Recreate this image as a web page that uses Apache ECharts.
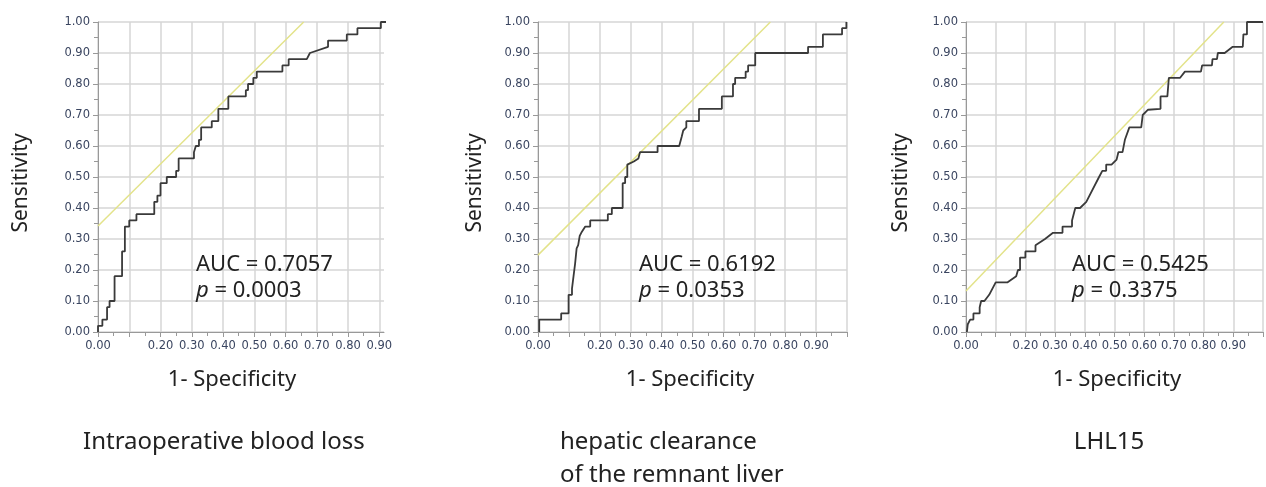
<!DOCTYPE html>
<html><head><meta charset="utf-8">
<script src="https://cdn.jsdelivr.net/npm/echarts@6/dist/echarts.min.js"></script>
<style>html,body{margin:0;padding:0;background:#fff}#c{width:1266px;height:487px}</style>
</head><body><div id="c"></div>
<script>
// ---- data ----
const panelTitles = [['Intraoperative blood loss'], ['hepatic clearance', 'of the remnant liver'], ['LHL15']];
const aucValues = ['0.7057', '0.6192', '0.5425'];
const pValues = ['0.0003', '0.0353', '0.3375'];
const yTickLabels = ['0.00','0.10','0.20','0.30','0.40','0.50','0.60','0.70','0.80','0.90','1.00'];
const xTickLabels = ['0.00','','0.20','0.30','0.40','0.50','0.60','0.70','0.80','0.90',''];
const tangentIntercepts = [0.342, 0.248, 0.132];
const xAxisMax = [0.915, 1.0, 1.0];

// ROC curves: [1 - specificity, sensitivity]
const rocBloodLoss = [[0,0],[0,0.02],[0.014,0.02],[0.014,0.04],[0.029,0.04],[0.029,0.08],[0.037,0.08],[0.037,0.10],[0.053,0.10],[0.053,0.18],[0.077,0.18],[0.077,0.26],[0.086,0.26],[0.086,0.34],[0.10,0.34],[0.10,0.36],[0.123,0.36],[0.123,0.38],[0.18,0.38],[0.18,0.42],[0.19,0.42],[0.19,0.44],[0.20,0.44],[0.20,0.48],[0.22,0.48],[0.22,0.50],[0.25,0.50],[0.25,0.52],[0.258,0.52],[0.258,0.56],[0.307,0.56],[0.307,0.58],[0.313,0.58],[0.313,0.60],[0.323,0.60],[0.323,0.62],[0.33,0.62],[0.33,0.66],[0.364,0.66],[0.364,0.68],[0.385,0.68],[0.385,0.72],[0.417,0.72],[0.417,0.76],[0.473,0.76],[0.473,0.78],[0.48,0.78],[0.48,0.80],[0.497,0.80],[0.497,0.82],[0.508,0.82],[0.508,0.84],[0.59,0.84],[0.59,0.86],[0.61,0.86],[0.61,0.88],[0.668,0.88],[0.678,0.90],[0.736,0.92],[0.736,0.94],[0.796,0.94],[0.796,0.96],[0.83,0.96],[0.83,0.98],[0.905,0.98],[0.905,1.0],[1.0,1.0]];
const rocClearance = [[0.004,0],[0.004,0.04],[0.075,0.04],[0.075,0.06],[0.099,0.06],[0.099,0.12],[0.11,0.12],[0.11,0.14],[0.115,0.18],[0.12,0.22],[0.125,0.27],[0.13,0.28],[0.135,0.31],[0.14,0.32],[0.153,0.34],[0.169,0.34],[0.169,0.36],[0.226,0.36],[0.226,0.38],[0.239,0.38],[0.239,0.40],[0.274,0.40],[0.274,0.48],[0.282,0.48],[0.282,0.50],[0.289,0.50],[0.289,0.54],[0.31,0.55],[0.325,0.56],[0.33,0.56],[0.33,0.58],[0.387,0.58],[0.387,0.60],[0.457,0.60],[0.465,0.63],[0.47,0.65],[0.48,0.66],[0.48,0.68],[0.521,0.68],[0.521,0.72],[0.595,0.72],[0.595,0.76],[0.631,0.76],[0.631,0.80],[0.638,0.80],[0.638,0.82],[0.672,0.82],[0.672,0.84],[0.68,0.84],[0.68,0.86],[0.703,0.86],[0.703,0.90],[0.874,0.90],[0.874,0.92],[0.922,0.92],[0.922,0.96],[0.984,0.96],[0.984,0.98],[0.998,0.98],[0.998,1.0],[1.0,1.0]];
const rocLHL15 = [[0.003,0],[0.006,0.025],[0.014,0.04],[0.025,0.04],[0.025,0.06],[0.046,0.06],[0.046,0.08],[0.051,0.08],[0.051,0.10],[0.062,0.10],[0.078,0.12],[0.10,0.16],[0.139,0.16],[0.169,0.18],[0.175,0.18],[0.175,0.20],[0.182,0.20],[0.182,0.24],[0.20,0.24],[0.20,0.26],[0.234,0.26],[0.234,0.28],[0.266,0.30],[0.293,0.32],[0.325,0.32],[0.325,0.34],[0.357,0.34],[0.357,0.36],[0.368,0.40],[0.384,0.40],[0.405,0.42],[0.448,0.50],[0.459,0.52],[0.472,0.52],[0.472,0.54],[0.49,0.54],[0.507,0.556],[0.513,0.58],[0.527,0.58],[0.535,0.62],[0.55,0.66],[0.59,0.66],[0.595,0.70],[0.613,0.717],[0.655,0.72],[0.655,0.76],[0.678,0.76],[0.683,0.82],[0.721,0.82],[0.737,0.84],[0.791,0.84],[0.795,0.86],[0.828,0.86],[0.83,0.88],[0.845,0.88],[0.848,0.90],[0.871,0.90],[0.898,0.92],[0.932,0.92],[0.934,0.96],[0.946,0.96],[0.946,1.0],[1.0,1.0]];
const rocCurves = [rocBloodLoss, rocClearance, rocLHL15];

// ---- layout ----
const panels = [
  {left: 98,  width: 286, yNameX: 21,  xNameX: 232,  textX: 196,  titleX: 83,   titleAlign: 'left'},
  {left: 538, width: 309, yNameX: 475, xNameX: 690,  textX: 639,  titleX: 560,  titleAlign: 'left'},
  {left: 966, width: 311, yNameX: 901, xNameX: 1117, textX: 1072, titleX: 1109, titleAlign: 'center'}
];
const TOP = 22, HEIGHT = 310;
const bigFont = '"Noto Sans", sans-serif';
const txtColor = '#222';

const grids = [], xAxes = [], yAxes = [], series = [], graphics = [];
const tickVals = [0,0.1,0.2,0.3,0.4,0.5,0.6,0.7,0.8,0.9,1.0];
panels.forEach((p, i) => {
  grids.push({left: p.left, top: TOP, width: p.width, height: HEIGHT, containLabel: false});
  const xmax = xAxisMax[i];
  const xt = tickVals.filter(v => v <= xmax + 1e-9);
  xAxes.push({
    type: 'value', gridIndex: i, min: 0, max: xmax, interval: 0.1,
    axisLine: {show: true, lineStyle: {color: '#999', width: 1}},
    axisTick: {show: true, length: 5, lineStyle: {color: '#999'}, customValues: xt},
    minorTick: {show: true, splitNumber: 2, length: 4, lineStyle: {color: '#999'}},
    splitLine: {show: true, lineStyle: {color: '#d6d6d6', width: 1.5}},
    axisLabel: {
      customValues: xt,
      margin: 8, fontSize: 11.5, fontFamily: 'DejaVu Sans', color: '#3a4560',
      formatter: v => { const k = Math.round(v * 10); return Math.abs(v * 10 - k) < 0.01 ? (xTickLabels[k] || '') : ''; }
    }
  });
  yAxes.push({
    type: 'value', gridIndex: i, min: 0, max: 1, interval: 0.1,
    axisLine: {show: true, lineStyle: {color: '#999', width: 1}},
    axisTick: {show: true, length: 5, lineStyle: {color: '#999'}},
    minorTick: {show: true, splitNumber: 2, length: 4, lineStyle: {color: '#999'}},
    splitLine: {show: true, lineStyle: {color: '#d6d6d6', width: 1.5}},
    axisLabel: {
      margin: 8, fontSize: 11.5, fontFamily: 'DejaVu Sans', color: '#3a4560',
      formatter: v => yTickLabels[Math.round(v * 10)] || ''
    }
  });
  const c = tangentIntercepts[i];
  series.push({
    type: 'line', xAxisIndex: i, yAxisIndex: i, data: [[0, c], [1 - c, 1]],
    showSymbol: false, silent: true, lineStyle: {color: '#e3e38a', width: 1.5}, z: 2
  });
  series.push({
    type: 'line', xAxisIndex: i, yAxisIndex: i, data: rocCurves[i],
    showSymbol: false, silent: true, lineStyle: {color: '#3a3a3a', width: 1.8}, z: 3
  });
  graphics.push({type: 'text', x: p.yNameX, y: TOP + HEIGHT / 2 + 6, rotation: Math.PI / 2, z: 100,
    style: {text: 'Sensitivity', fontSize: 21, fontFamily: bigFont, fill: txtColor, align: 'center', verticalAlign: 'middle'}});
  graphics.push({type: 'text', x: p.xNameX, y: 380, z: 100,
    style: {text: '1- Specificity', fontSize: 22, fontFamily: bigFont, fill: txtColor, align: 'center', verticalAlign: 'middle'}});
  graphics.push({type: 'text', x: p.textX, y: 265, z: 100,
    style: {text: 'AUC = ' + aucValues[i], fontSize: 22, fontFamily: bigFont, fill: txtColor, align: 'left', verticalAlign: 'middle'}});
  graphics.push({type: 'text', x: p.textX, y: 291, z: 100,
    style: {text: '{i|p} = ' + pValues[i], fontSize: 22, fontFamily: bigFont, fill: txtColor, align: 'left', verticalAlign: 'middle',
      rich: {i: {fontStyle: 'italic', fontSize: 22, fontFamily: bigFont, fill: txtColor}}}});
  panelTitles[i].forEach((line, j) => {
    graphics.push({type: 'text', x: p.titleX, y: 442 + j * 33, z: 100,
      style: {text: line, fontSize: 24, fontFamily: bigFont, fill: txtColor, align: p.titleAlign, verticalAlign: 'middle'}});
  });
});

const chart = echarts.init(document.getElementById('c'), null, {renderer: 'canvas'});
chart.setOption({
  animation: false,
  backgroundColor: '#fff',
  grid: grids, xAxis: xAxes, yAxis: yAxes, series: series,
  graphic: {elements: graphics}
});
</script></body></html>
